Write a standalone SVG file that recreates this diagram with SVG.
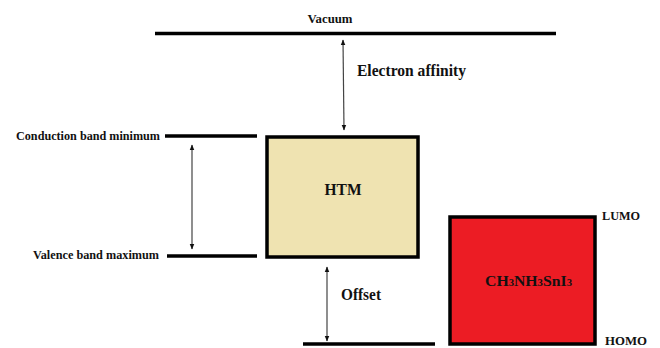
<svg xmlns="http://www.w3.org/2000/svg" width="660" height="348" viewBox="0 0 660 348">
<style>
.lvl{stroke:#000;stroke-width:3.5;stroke-linecap:butt}
.arr{stroke:#444;stroke-width:1.2;fill:none;marker-start:url(#ah);marker-end:url(#ah)}
.t{font-family:"Liberation Serif","Times New Roman",serif;font-weight:bold;fill:#111}
.box{stroke:#000;stroke-width:3.5}
</style>
<defs>
<marker id="ah" viewBox="0 0 10 10" refX="9" refY="5" markerWidth="6" markerHeight="6" orient="auto-start-reverse" markerUnits="userSpaceOnUse">
<path d="M0,1 L10,5 L0,9 z" fill="#111"/>
</marker>
</defs>
<rect width="660" height="348" fill="#fff"/>
<g id="vacuum">
<line class="lvl" x1="155" y1="33.5" x2="556" y2="33.5"/>
<text class="t" x="330" y="23" font-size="12" text-anchor="middle" textLength="45" lengthAdjust="spacingAndGlyphs">Vacuum</text>
</g>
<g id="cbm">
<line class="lvl" x1="165" y1="136" x2="257" y2="136"/>
<text class="t" x="160" y="139.5" font-size="12.5" text-anchor="end" textLength="144" lengthAdjust="spacingAndGlyphs">Conduction band minimum</text>
</g>
<g id="vbm">
<line class="lvl" x1="167" y1="256" x2="257" y2="256"/>
<text class="t" x="159" y="258.5" font-size="12.5" text-anchor="end" textLength="126" lengthAdjust="spacingAndGlyphs">Valence band maximum</text>
</g>
<g id="htm">
<rect class="box" x="267" y="137" width="151" height="120" fill="#efe3b1"/>
<text class="t" x="343" y="195" font-size="16" text-anchor="middle" textLength="37" lengthAdjust="spacingAndGlyphs">HTM</text>
</g>
<g id="perovskite">
<rect class="box" x="450" y="217" width="145" height="127" fill="#ec1c24"/>
<text class="t" x="485" y="286" font-size="15.5" textLength="87" lengthAdjust="spacingAndGlyphs">CH<tspan font-size="10.5">3</tspan>NH<tspan font-size="10.5">3</tspan>SnI<tspan font-size="10.5">3</tspan></text>
<text class="t" x="602" y="220" font-size="12.5" textLength="38" lengthAdjust="spacingAndGlyphs">LUMO</text>
<text class="t" x="605" y="344.5" font-size="12" textLength="42" lengthAdjust="spacingAndGlyphs">HOMO</text>
</g>
<g id="bottom">
<line class="lvl" x1="303" y1="344" x2="435" y2="344"/>
</g>
<g id="connectors">
<line class="arr" x1="343" y1="40" x2="344" y2="130"/>
<line class="arr" x1="192" y1="145" x2="192" y2="249"/>
<line class="arr" x1="327" y1="267" x2="327" y2="341"/>
<text class="t" x="357" y="76" font-size="16.5" textLength="109" lengthAdjust="spacingAndGlyphs">Electron affinity</text>
<text class="t" x="341" y="300" font-size="16.5" textLength="40" lengthAdjust="spacingAndGlyphs">Offset</text>
</g>
</svg>
